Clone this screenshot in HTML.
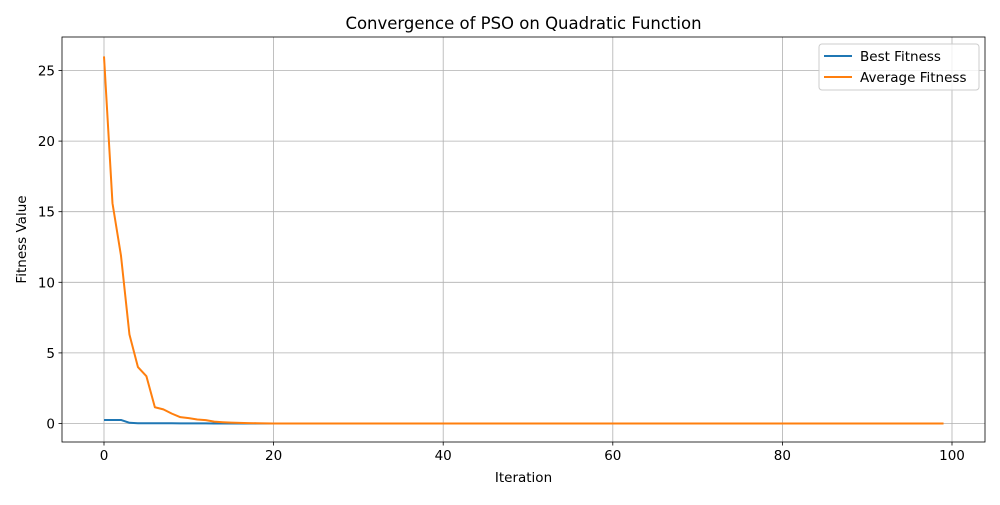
<!DOCTYPE html>
<html><head><meta charset="utf-8"><style>
body{margin:0;background:#fff;width:1000px;height:500px;overflow:hidden}
svg text{font-family:"DejaVu Sans","Liberation Sans",sans-serif;fill:#000}
</style></head><body>
<svg id="chart" width="1000" height="500" xmlns="http://www.w3.org/2000/svg">
<rect width="1000" height="500" fill="#fff"/>
<g id="grid"></g>
<g id="ticks"></g>
<g id="series"></g>
<rect x="62" y="37" width="923" height="405" fill="none" stroke="#000" stroke-width="0.8"/>
<text x="523.5" y="29" font-size="16.5" text-anchor="middle">Convergence of PSO on Quadratic Function</text>
<text x="523.5" y="482" font-size="13.5" text-anchor="middle">Iteration</text>
<text transform="translate(26,239.5) rotate(-90)" font-size="13.5" text-anchor="middle">Fitness Value</text>
<g>
<rect x="819" y="44" width="160" height="46" rx="3" fill="#fff" fill-opacity="0.8" stroke="#ccc"/>
<line x1="824" y1="56" x2="852" y2="56" stroke="#1f77b4" stroke-width="2"/>
<text x="860" y="61" font-size="13.5">Best Fitness</text>
<line x1="824" y1="77" x2="852" y2="77" stroke="#ff7f0e" stroke-width="2"/>
<text x="860" y="82" font-size="13.5">Average Fitness</text>
</g>
</svg>
<script>
const avgHead = [26, 15.6, 11.9, 6.3, 4.0, 3.35, 1.15, 1.0, 0.7, 0.45, 0.38, 0.28, 0.24, 0.13, 0.09, 0.06, 0.04, 0.03, 0.02, 0.01];
const bestHead = [0.25, 0.25, 0.25, 0.05, 0.02, 0.02, 0.02, 0.02, 0.02, 0.01, 0.01, 0.01, 0.01];
const xTicks = [0, 20, 40, 60, 80, 100];
const yTicks = [0, 5, 10, 15, 20, 25];
const N = 100;
const avgSeries = [], bestSeries = [];
for (let i = 0; i < N; i++) { avgSeries.push(i < avgHead.length ? avgHead[i] : 0); bestSeries.push(i < bestHead.length ? bestHead[i] : 0); }
const xs = v => 104 + v * 8.48;
const ys = v => 423.5 - v * 14.12;
const NS = "http://www.w3.org/2000/svg";
const grid = document.getElementById('grid'), ticks = document.getElementById('ticks'), series = document.getElementById('series');
function mk(tag, attrs, parent) { const e = document.createElementNS(NS, tag); for (const k in attrs) e.setAttribute(k, attrs[k]); parent.appendChild(e); return e; }
xTicks.forEach(t => {
  const g = mk('line', {x1: xs(t), x2: xs(t), y1: 37, y2: 442, stroke: '#b0b0b0', 'stroke-width': 0.8}, grid);
  
  
  mk('line', {x1: xs(t), x2: xs(t), y1: 442, y2: 445.5, stroke: '#000', 'stroke-width': 0.8}, ticks);
  const tx = mk('text', {x: xs(t), y: 460, 'font-size': 13.5, 'text-anchor': 'middle'}, ticks);
  tx.textContent = t;
  
  
});
yTicks.forEach(t => {
  const g = mk('line', {x1: 62, x2: 985, y1: ys(t), y2: ys(t), stroke: '#b0b0b0', 'stroke-width': 0.8}, grid);
  
  
  mk('line', {x1: 58.5, x2: 62, y1: ys(t), y2: ys(t), stroke: '#000', 'stroke-width': 0.8}, ticks);
  const tx = mk('text', {x: 55, y: ys(t) + 5, 'font-size': 13.5, 'text-anchor': 'end'}, ticks);
  tx.textContent = t;
  
  
});
function line(data, color, name) {
  const p = mk('polyline', {points: data.map((v, i) => xs(i) + ',' + ys(v)).join(' '), fill: 'none', stroke: color, 'stroke-width': 2, 'stroke-linejoin': 'round'}, series);
  
  
}
line(bestSeries, '#1f77b4', 'best-fitness-line');
line(avgSeries, '#ff7f0e', 'average-fitness-line');
</script>
</body></html>
